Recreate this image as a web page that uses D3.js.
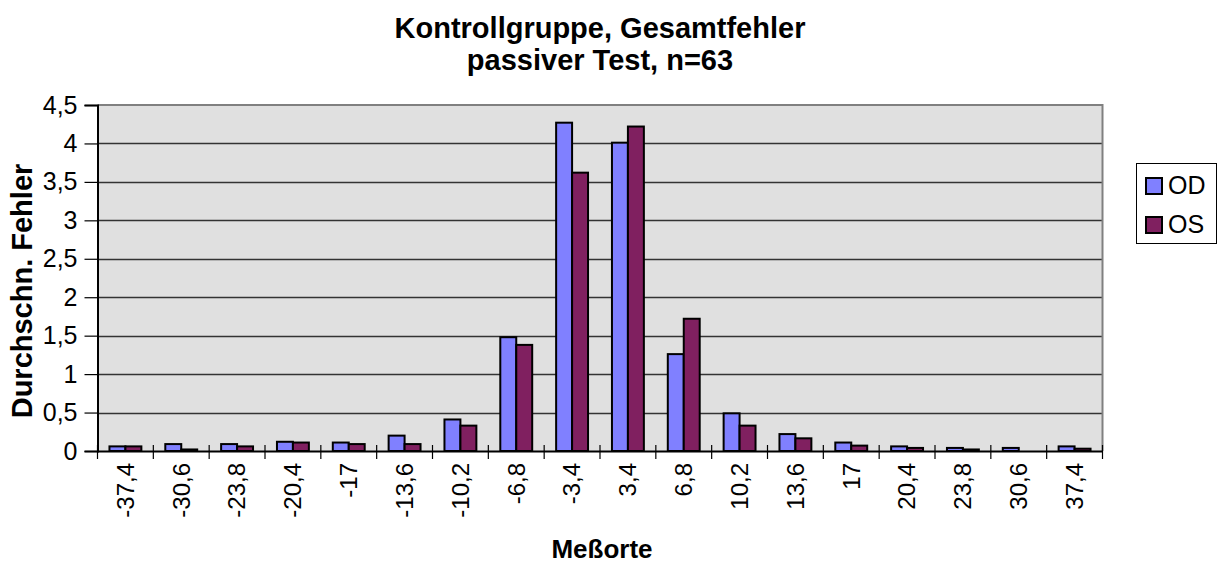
<!DOCTYPE html>
<html><head><meta charset="utf-8">
<script src="https://cdn.jsdelivr.net/npm/d3@7"></script>
<style>body{margin:0;background:#fff}svg{display:block}text{font-family:"Liberation Sans",Arial,sans-serif}</style>
</head><body>
<svg id="c" width="1218" height="563"></svg>
<script>
const categories = ["-37,4","-30,6","-23,8","-20,4","-17","-13,6","-10,2","-6,8","-3,4","3,4","6,8","10,2","13,6","17","20,4","23,8","30,6","37,4"];
const seriesNames = ["OD","OS"];
const valuesOD = [0.06,0.09,0.09,0.12,0.11,0.2,0.41,1.48,4.27,4.01,1.26,0.49,0.22,0.11,0.06,0.04,0.04,0.06];
const valuesOS = [0.06,0.02,0.06,0.11,0.09,0.09,0.33,1.38,3.62,4.22,1.72,0.33,0.165,0.07,0.04,0.02,0,0.03];
const yTicks = [0,0.5,1,1.5,2,2.5,3,3.5,4,4.5];
const colors = ["#8080FF","#802060"];

const svg = d3.select("#c");
const L=97.5, R=1102.5, T=105, B=451;
const x = d3.scaleBand().domain(categories).range([L,R]).paddingInner(0);
const y = d3.scaleLinear().domain([0,4.5]).range([B,T]);
const fmt = v => String(v).replace(".",",");
const FF = "Liberation Sans, Arial, sans-serif";

svg.append("rect").attr("x",L).attr("y",T).attr("width",R-L).attr("height",B-T).attr("fill","#E0E0E0");
svg.append("g").selectAll("line").data(yTicks.filter(v=>v>0&&v<4.5)).join("line")
  .attr("x1",L).attr("x2",R).attr("y1",d=>Math.round(y(d))+0.5).attr("y2",d=>Math.round(y(d))+0.5)
  .attr("stroke","#333").attr("stroke-width",1.5);
svg.append("path").attr("d",`M${L},${T}H${R}V${B}`).attr("fill","none").attr("stroke","#808080").attr("stroke-width",2);

const bw = x.bandwidth()/3.5;
[valuesOD, valuesOS].forEach((vals,si)=>{
  svg.append("g").selectAll("rect").data(categories).join("rect")
    .attr("x",(d,i)=>x(d)+bw*0.75+si*bw)
    .attr("y",(d,i)=>y(vals[i]))
    .attr("width",bw)
    .attr("height",(d,i)=>B-y(vals[i]))
    .attr("fill",colors[si]).attr("stroke","#000").attr("stroke-width",2);
});

const ya = svg.append("g").attr("transform",`translate(${L},0)`)
  .call(d3.axisLeft(y).tickValues(yTicks).tickFormat(fmt).tickSize(13).tickPadding(7));
ya.select(".domain").attr("stroke","#000").attr("stroke-width",2);
ya.selectAll(".tick line").attr("stroke","#000").attr("stroke-width",1.2);
ya.selectAll("text").attr("font-size",25).attr("fill","#000").style("font-family",FF);

const xa = svg.append("g").attr("transform",`translate(0,${B})`)
  .call(d3.axisBottom(x).tickSize(0).tickFormat(d=>d));
xa.select(".domain").attr("stroke","#000").attr("stroke-width",2);
xa.selectAll("text").attr("font-size",24).attr("fill","#000")
  .style("font-family",FF)
  .attr("transform","rotate(-90)").attr("x",-12).attr("y",0).attr("dy","0.35em").attr("text-anchor","end");
svg.append("g").selectAll("line").data(d3.range(categories.length+1)).join("line")
  .attr("x1",i=>L+i*x.step()).attr("x2",i=>L+i*x.step()).attr("y1",B-6).attr("y2",B+8)
  .attr("stroke","#000").attr("stroke-width",1.2);

const title = svg.append("text").attr("text-anchor","middle").attr("font-weight","bold").attr("font-size",29);
title.append("tspan").attr("x",600).attr("y",38).text("Kontrollgruppe, Gesamtfehler");
title.append("tspan").attr("x",600).attr("y",70).text("passiver Test, n=63");
svg.append("text").attr("x",602).attr("y",558).attr("text-anchor","middle").attr("font-weight","bold").attr("font-size",26).text("Meßorte");
svg.append("text").attr("transform","translate(32,291) rotate(-90)").attr("text-anchor","middle").attr("font-weight","bold").attr("font-size",29).text("Durchschn. Fehler");

const lg = svg.append("g");
lg.append("rect").attr("x",1136.5).attr("y",163.5).attr("width",80).attr("height",80).attr("fill","#fff").attr("stroke","#000").attr("stroke-width",1);
seriesNames.forEach((n,i)=>{
  lg.append("rect").attr("x",1146).attr("y",178+i*39).attr("width",16).attr("height",16).attr("fill",colors[i]).attr("stroke","#000").attr("stroke-width",2);
  lg.append("text").attr("x",1168).attr("y",194+i*39).attr("font-size",25).text(n);
});
</script>
</body></html>
